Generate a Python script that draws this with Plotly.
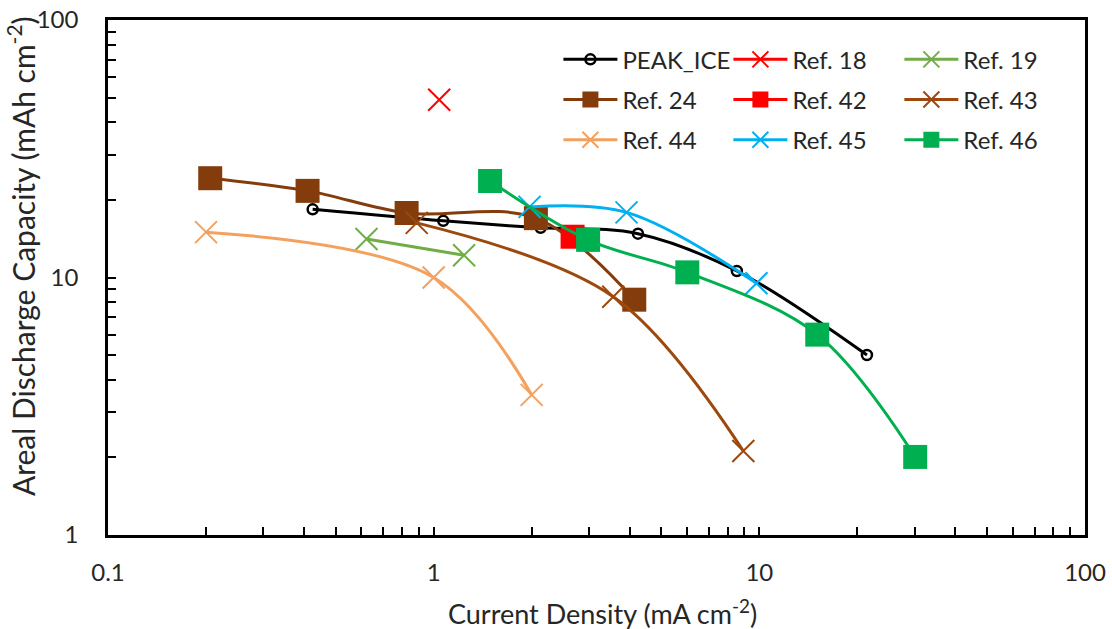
import plotly.graph_objects as go

# Rate capability data: current density (mA cm^-2) vs areal discharge capacity (mAh cm^-2)
peak_x = [0.425, 1.07, 2.13, 4.24, 8.53, 21.4]
peak_y = [18.4, 16.6, 15.6, 14.8, 10.6, 5.0]

ref18_x = [1.04]
ref18_y = [49.0]

ref19_x = [0.622, 1.24]
ref19_y = [14.1, 12.2]

ref24_x = [0.206, 0.41, 0.826, 2.06, 4.13]
ref24_y = [24.3, 21.7, 17.8, 17.0, 8.2]

ref42_x = [2.67]
ref42_y = [14.4]

ref43_x = [0.887, 3.56, 8.93]
ref43_y = [16.3, 8.42, 2.12]

ref44_x = [0.2, 1.0, 2.0]
ref44_y = [15.0, 10.0, 3.5]

ref45_x = [1.97, 3.91, 9.8]
ref45_y = [18.8, 17.9, 9.5]

ref46_x = [1.49, 2.98, 6.01, 15.06, 30.1]
ref46_y = [23.7, 14.0, 10.47, 6.0, 2.01]

decades = [0.1, 1, 10, 100]
x_tick_labels = ["0.1", "1", "10", "100"]
y_decades = [1, 10, 100]
y_tick_labels = ["1", "10", "100"]

FONT = "Lato"
TEXT = "#262626"

series = [
    # name, x, y, color, symbol, size, legend, group
    ("PEAK_ICE", peak_x, peak_y, "#000000", "circle-open", 10, "legend", "g1"),
    ("Ref. 18", ref18_x, ref18_y, "#FF0000", "x-thin-open", 22, "legend2", "g2"),
    ("Ref. 19", ref19_x, ref19_y, "#70AD47", "x-thin-open", 22, "legend3", "g3"),
    ("Ref. 24", ref24_x, ref24_y, "#843C0C", "square", 24, "legend", "g4"),
    ("Ref. 42", ref42_x, ref42_y, "#FF0000", "square", 24, "legend2", "g5"),
    ("Ref. 43", ref43_x, ref43_y, "#9E480E", "x-thin-open", 22, "legend3", "g6"),
    ("Ref. 44", ref44_x, ref44_y, "#F4A15F", "x-thin-open", 22, "legend", "g7"),
    ("Ref. 45", ref45_x, ref45_y, "#00B0F0", "x-thin-open", 22, "legend2", "g8"),
    ("Ref. 46", ref46_x, ref46_y, "#00B050", "square", 24, "legend3", "g9"),
]

fig = go.Figure()
for name, xs, ys, color, symbol, size, leg, grp in series:
    open_sym = symbol.endswith("open")
    fig.add_trace(go.Scatter(
        x=xs, y=ys, name=name, mode="lines+markers",
        line=dict(color=color, width=3, shape="spline", smoothing=1.0),
        marker=dict(
            symbol=symbol, size=size, color=color,
            line=dict(color=color, width=2.5 if symbol == "circle-open" else (2 if open_sym else 0)),
        ),
        legend=leg, legendgroup=grp,
    ))


def all_ticks(decs):
    vals = []
    for i, d in enumerate(decs):
        vals.append(d)
        if i < len(decs) - 1:
            for k in range(2, 10):
                vals.append(d * k)
    return vals


def tick_text(vals, decs, labels):
    return [labels[decs.index(v)] if v in decs else "" for v in vals]


x_vals = all_ticks(decades)
y_vals = all_ticks(y_decades)

axis_common = dict(
    type="log", showgrid=False, zeroline=False, automargin=False,
    showline=True, linecolor="#000000", linewidth=2.5, mirror=True,
    ticks="inside", ticklen=8, tickwidth=1.5, tickcolor="#000000",
    tickfont=dict(family=FONT, size=24, color=TEXT),
)

fig.update_xaxes(
    **axis_common, range=[-1, 2],
    tickmode="array", tickvals=x_vals, ticktext=tick_text(x_vals, decades, x_tick_labels),
    ticklabelstandoff=14,
)
fig.update_yaxes(
    **axis_common, range=[0, 2],
    tickmode="array", tickvals=y_vals, ticktext=tick_text(y_vals, y_decades, y_tick_labels),
    ticklabelstandoff=22,
)

# Axis titles
fig.add_annotation(
    text="Current Density (mA cm<sup>-2</sup>)", xref="paper", yref="paper",
    x=0.506, y=-0.1495, xanchor="center", yanchor="middle", showarrow=False,
    font=dict(family=FONT, size=27, color=TEXT),
)
fig.add_annotation(
    text="Areal Discharge Capacity (mAh cm<sup>-2</sup>)", xref="paper", yref="paper",
    x=-0.089, y=0.5417, xanchor="center", yanchor="middle", showarrow=False,
    textangle=-90, font=dict(family=FONT, size=30, color=TEXT),
)

legend_common = dict(
    orientation="v", xanchor="left", yanchor="top", y=0.9665,
    bgcolor="rgba(0,0,0,0)", borderwidth=0, tracegroupgap=6, itemwidth=54,
    font=dict(family=FONT, size=24, color=TEXT),
)
fig.update_layout(
    width=1112, height=629,
    margin=dict(l=108, r=27, t=20, b=94),
    paper_bgcolor="white", plot_bgcolor="white",
    font=dict(family=FONT, size=24, color=TEXT),
    showlegend=True,
    legend=dict(**legend_common, x=0.461),
    legend2=dict(**legend_common, x=0.635),
    legend3=dict(**legend_common, x=0.810),
)

fig.write_html("out.html")
